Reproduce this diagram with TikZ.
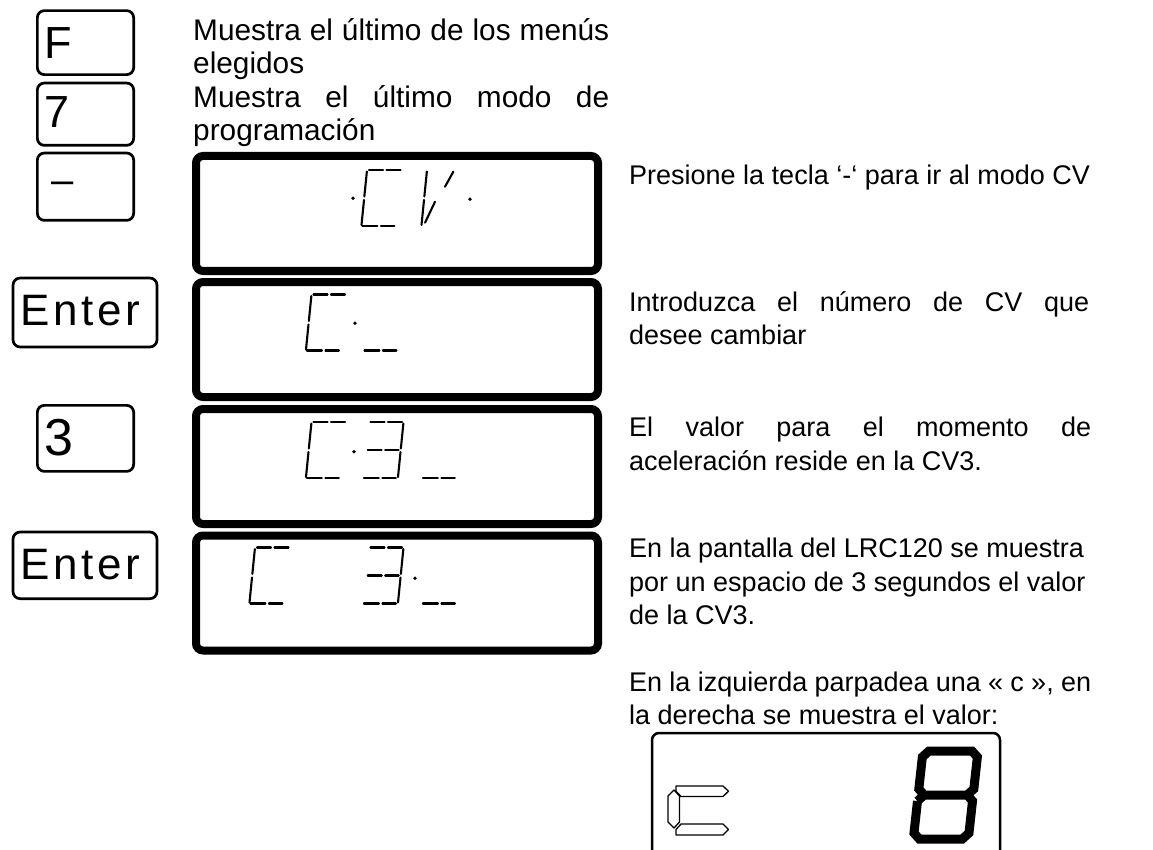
\documentclass[tikz,border=0pt]{standalone}
\usepackage{fontspec}
\setmainfont{Liberation Sans}
\newfontfamily\keyfont{Liberation Sans}[LetterSpace=8]
\newcommand\lcdtop{\draw[seg] (2,0)--(16,0) (19.5,0)--(33.5,0);}
\newcommand\lcdmid{\draw[seg] (2,28)--(16,28) (19.5,28)--(33,28);}
\newcommand\lcdbot{\draw[seg] (1,56)--(16,56) (19.5,56)--(33,56);}
\newcommand\lcdleft{\draw[seg] (0,1.5)--(0,26.5) (0,30)--(0,55);}
\newcommand\lcdright{\draw[seg] (35,1.5)--(35,26.5) (35,30)--(35,55);}
\tikzset{
  keybox/.style={draw, line width=2.7pt, rounded corners=7pt, inner sep=0pt, minimum width=96.3pt},
  widekey/.style={draw, line width=2.7pt, rounded corners=7pt, inner sep=0pt, minimum width=143.9pt},
  lcd/.style={draw, line width=8pt, rounded corners=7pt, inner sep=0pt, minimum width=402pt, minimum height=115pt},
  seg/.style={line width=2.1pt, line cap=round},
  keylbl/.style={anchor=base west, inner sep=0pt},
  txt/.style={anchor=base west, inner sep=0pt, font=\fontsize{27}{33}\selectfont},
  ltxt/.style={anchor=base west, inner sep=0pt, font=\fontsize{29.8}{33}\selectfont},
}
\begin{document}
\begin{tikzpicture}[x=1pt,y=-1pt]
\useasboundingbox (0,0) rectangle (1153,850);
\clip (0,0) rectangle (1153,850);
% keys
\node[keybox, minimum height=64pt] (kF) at (85.5,42.65) {};
\node[keybox, minimum height=62.3pt] (k7) at (85.5,114.2) {};
\node[keybox, minimum height=67.3pt] (kminus) at (85.5,186.7) {};
\node[widekey, minimum height=68.9pt] (kenter1) at (85,312.5) {};
\node[keybox, minimum height=66pt] (k3) at (85.5,438.35) {};
\node[widekey, minimum height=66.6pt] (kenter2) at (85,565.35) {};
\node[keylbl, font=\fontsize{45}{45}\selectfont] (lF) at (44.5,58.3) {F};
\node[keylbl, font=\fontsize{45}{45}\selectfont] (l7) at (44.5,128) {7};
\node[keylbl, font=\fontsize{40}{40}\selectfont] (lminus) at (51.7,193.7) {–};
\node[keylbl, font=\keyfont\fontsize{44}{44}\selectfont] (lenter1) at (20.5,325) {Enter};
\node[keylbl, font=\fontsize{52}{52}\selectfont] (l3) at (44.5,455) {3};
\node[keylbl, font=\keyfont\fontsize{44}{44}\selectfont] (lenter2) at (20.5,579) {Enter};
% displays
\node[lcd] (d1) at (397,213.5) {};
\node[lcd] (d2) at (397,339.5) {};
\node[lcd] (d3) at (397,466.5) {};
\node[lcd] (d4) at (397,593) {};
% display 1: *CV*
\fill (353,198.3) circle[radius=1.9pt];
\fill (470,199.3) circle[radius=1.9pt];
\begin{scope}[shift={(367,170)}, xslant=0.1]
  \lcdtop \lcdleft \lcdbot
\end{scope}
\begin{scope}[shift={(427,170)}, xslant=0.1]
  \lcdleft
  \draw[seg] (26.5,1.7)--(19.7,16.7) (11.2,31.7)--(3.3,52.7);
\end{scope}
% display 2: C*__
\begin{scope}[shift={(311.5,294.5)}, xslant=0.1]
  \lcdtop \lcdleft \lcdbot
\end{scope}
\fill (355,323.3) circle[radius=1.9pt];
\begin{scope}[shift={(369,294.5)}, xslant=0.1]
  \lcdbot
\end{scope}
% display 3: C*3__
\begin{scope}[shift={(311.5,422)}, xslant=0.1]
  \lcdtop \lcdleft \lcdbot
\end{scope}
\fill (354,451.7) circle[radius=1.9pt];
\begin{scope}[shift={(368.5,422)}, xslant=0.1]
  \lcdtop \lcdmid \lcdbot \lcdright
\end{scope}
\begin{scope}[shift={(427.5,422)}, xslant=0.1]
  \lcdbot
\end{scope}
% display 4: C  3*__
\begin{scope}[shift={(255,547.5)}, xslant=0.1]
  \lcdtop \lcdleft \lcdbot
\end{scope}
\begin{scope}[shift={(368.5,547.5)}, xslant=0.1]
  \lcdtop \lcdmid \lcdbot \lcdright
\end{scope}
\fill (415,578.3) circle[radius=1.9pt];
\begin{scope}[shift={(427.5,547.5)}, xslant=0.1]
  \lcdbot
\end{scope}
% left text
\node[ltxt] (a1) at (193,40.4) {\makebox[416pt][s]{Muestra el último de los menús}};
\node[ltxt] (a2) at (193,73.4) {elegidos};
\node[ltxt] (a3) at (193,107.4) {\makebox[416pt][s]{Muestra el último modo de}};
\node[ltxt] (a4) at (193,140.4) {programación};
% right text
\node[txt] (t1) at (629,185) {Presione la tecla ‘-‘ para ir al modo CV};
\node[txt] (t2) at (629,311) {\makebox[460pt][s]{Introduzca el número de CV que}};
\node[txt] (t3) at (629,344) {desee cambiar};
\node[txt] (t4) at (629,436) {\makebox[462pt][s]{El valor para el momento de}};
\node[txt] (t5) at (629,470) {aceleración reside en la CV3.};
\node[txt] (t6) at (629,557) {En la pantalla del LRC120 se muestra};
\node[txt] (t7) at (629,591) {por un espacio de 3 segundos el valor};
\node[txt] (t8) at (629,624) {de la CV3.};
\node[txt] (t9) at (629,691) {\makebox[462pt][s]{En la izquierda parpadea una « c », en}};
\node[txt] (t10) at (629,724) {la derecha se muestra el valor:};
% bottom display
\draw[line width=2.5pt, rounded corners=7pt] (652,880) -- (652,733) -- (1000,733) -- (1000,880);
\begin{scope}[xshift=-5pt]
\draw[line width=1.3pt, line join=round]
  (681,786) -- (728,786) -- (733.5,791.2) -- (728,796.5) -- (686,796.5) -- (681,791.2) -- cycle
  (673,796) -- (679,790) -- (684.5,796) -- (684.5,822) -- (679,828) -- (673,822) -- cycle
  (686,824) -- (728,824) -- (733.5,829.5) -- (728,835) -- (681,835) -- (681,829.5) -- cycle;
\end{scope}
\begin{scope}[shift={(923,751)}, xslant=0.11]
  \draw[line width=9pt, line join=miter]
    (6,0)--(49,0)--(55,6)--(55,38)--(49,44)--(6,44)--(0,38)--(0,6)--cycle
    (0,50)--(6,44) (49,44)--(55,50)--(55,82)--(49,88)--(6,88)--(0,82)--(0,50);
\end{scope}
\end{tikzpicture}
\end{document}
